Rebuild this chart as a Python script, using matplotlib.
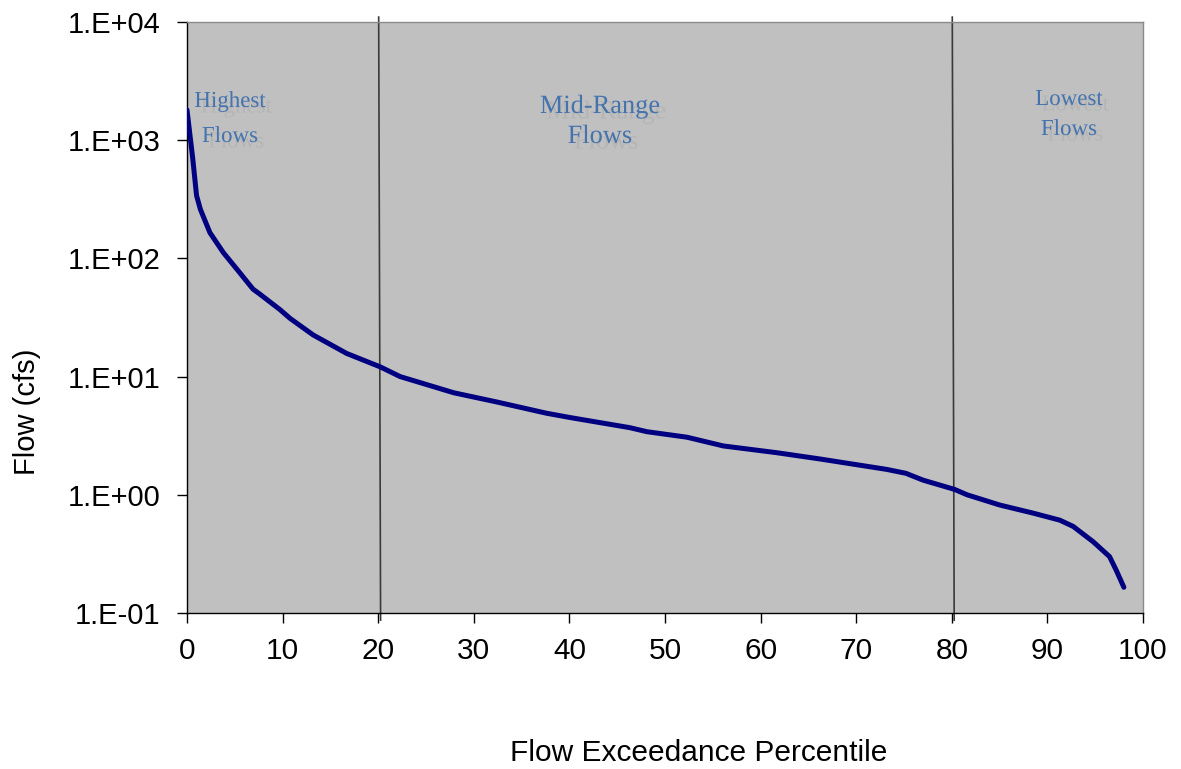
import matplotlib
matplotlib.use("Agg")
import matplotlib.pyplot as plt
import matplotlib.patheffects as pe

# Flow duration curve: exceedance percentile vs. flow (cfs)
percentile = [0.0, 0.6, 1.0, 1.4, 2.4, 3.8, 5.5, 6.9, 7.6, 9.7, 10.8, 13.2,
              16.7, 20.2, 22.3, 27.9, 32.4, 37.6, 40.1, 46.3, 48.1, 52.3,
              56.1, 61.7, 66.2, 73.2, 75.2, 77.0, 80.3, 81.6, 85.0, 88.5,
              91.3, 92.7, 94.8, 96.5, 97.2, 98.0]
flow_cfs = [1800, 700, 340, 260, 165, 112, 76, 55, 50, 37, 31, 22.5,
            15.7, 12.1, 10.0, 7.3, 6.1, 4.9, 4.5, 3.7, 3.42, 3.07,
            2.59, 2.27, 2.01, 1.64, 1.52, 1.33, 1.11, 1.0, 0.82, 0.70,
            0.61, 0.54, 0.40, 0.30, 0.23, 0.165]

x_ticks = [0, 10, 20, 30, 40, 50, 60, 70, 80, 90, 100]
y_ticks = [0.1, 1, 10, 100, 1000, 10000]
y_tick_labels = ["1.E-01", "1.E+00", "1.E+01", "1.E+02", "1.E+03", "1.E+04"]

# Flow zone boundaries and zone labels
zone_breaks = [20, 80]
zone_labels = [("Highest", "Flows"), ("Mid-Range", "Flows"), ("Lowest", "Flows")]

plt.rcParams["font.family"] = ["Liberation Sans", "DejaVu Sans"]

fig = plt.figure(figsize=(11.81, 7.69), dpi=100)
ax = fig.add_axes([187 / 1181, 1 - 613 / 769, (1143 - 187) / 1181, (613 - 22) / 769])
ax.set_facecolor("#c0c0c0")

ax.set_yscale("log")
ax.set_xlim(0, 100)
ax.set_ylim(0.1, 10000)

ax.plot(percentile, flow_cfs, color="#000080", lw=3.6, solid_capstyle="round",
        solid_joinstyle="round", zorder=3)

# zone divider lines, running a little past the plot frame
for b in zone_breaks:
    ax.plot([b + 0.05, b + 0.25], [1.1e4, 0.087], color="#3a3a3a", lw=1.2,
            clip_on=False, zorder=2)

ax.set_xticks(x_ticks)
ax.set_xticklabels([str(t) for t in x_ticks])
ax.set_yticks(y_ticks)
ax.set_yticklabels(y_tick_labels)
ax.yaxis.set_minor_locator(matplotlib.ticker.NullLocator())
ax.tick_params(axis="x", length=7, width=1, pad=10, labelsize=21.5, direction="out")
ax.tick_params(axis="y", length=7, width=1, pad=12, labelsize=21, direction="out")

for side in ("left", "bottom"):
    ax.spines[side].set_color("black")
    ax.spines[side].set_linewidth(1.0)
for side in ("top", "right"):
    ax.spines[side].set_color("#8a8a8a")
    ax.spines[side].set_linewidth(1.0)

fig.text(27 / 1181, 1 - 412 / 769, "Flow (cfs)", rotation=90, ha="center",
         va="center", fontsize=21)
fig.text(699 / 1181, 1 - 753 / 769, "Flow Exceedance Percentile", ha="center",
         va="center", fontsize=21.5)

# zone labels with a soft drop shadow
label_pos = [
    (230, 107, 142, 16.5),
    (600, 113, 143, 19),
    (1069, 105, 135, 16.5),
]
shadow_fx = [pe.SimplePatchShadow(offset=(4.5, -4), shadow_rgbFace="#a9a9a9",
                                  alpha=0.45),
             pe.Normal()]
for (l1, l2), (cx, b1, b2, fs) in zip(zone_labels, label_pos):
    for txt, by in ((l1, b1), (l2, b2)):
        fig.text(cx / 1181, 1 - by / 769, txt, ha="center", va="baseline",
                 fontsize=fs, family="Liberation Serif", color="#4573ad",
                 path_effects=shadow_fx, zorder=5)

fig.savefig("out.png", dpi=100)
